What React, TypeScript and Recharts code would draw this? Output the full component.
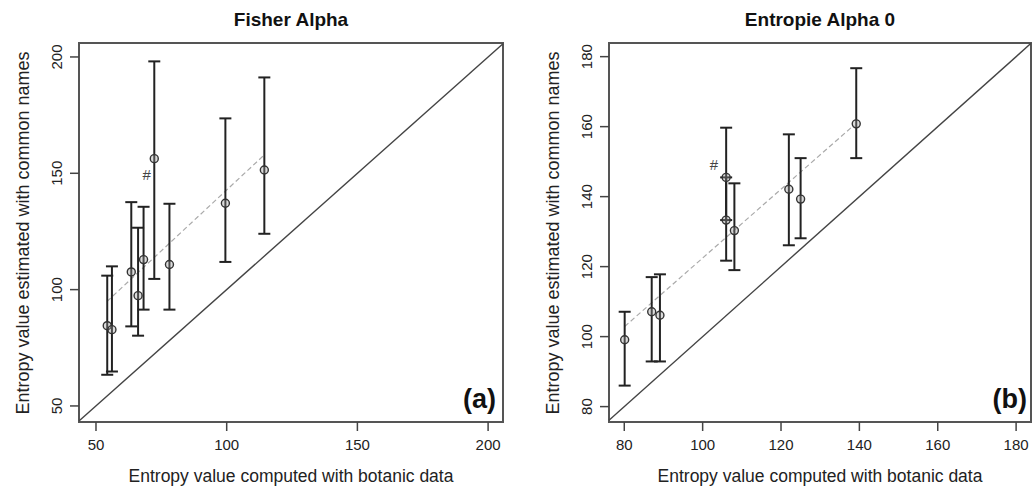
import { ErrorBar, ReferenceArea, ReferenceLine, Scatter, ScatterChart, XAxis, YAxis } from "recharts";

const FONT = "'Liberation Sans', Arial, Helvetica, sans-serif";

// (a) Fisher alpha: botanic estimate vs. common-name estimate with CI
const fisherBotanic = [54.3, 56.1, 63.5, 66.1, 68.2, 72.3, 78.1, 99.5, 114.4];
const fisherCommon = [84.5, 82.8, 107.6, 97.4, 112.9, 156.3, 110.8, 137.1, 151.4];
const fisherLow = [63.4, 64.8, 84.2, 80.2, 91.4, 104.6, 91.4, 111.9, 124.0];
const fisherHigh = [106.0, 110.0, 137.6, 126.6, 135.6, 198.1, 136.9, 173.6, 191.2];
const fisherFitX = [54.2, 113.9];
const fisherFitY = [94.9, 157.4];
const fisherMarkX = [69.4];
const fisherMarkY = [149.3];
const fisherTicks = [50, 100, 150, 200];

// (b) Entropy of order 0
const entropyBotanic = [80.1, 87.0, 89.1, 106.0, 106.0, 108.1, 122.0, 125.0, 139.2];
const entropyCommon = [99.1, 107.1, 106.1, 145.5, 133.3, 130.3, 142.1, 139.3, 160.8];
const entropyLow = [86.0, 92.9, 92.9, 133.3, 121.7, 119.0, 126.1, 128.1, 151.0];
const entropyHigh = [107.1, 117.0, 117.8, 159.7, 145.5, 143.8, 157.8, 151.0, 176.7];
const entropyFitX = [80.1, 138.5];
const entropyFitY = [102.9, 160.3];
const entropyMarkX = [102.9];
const entropyMarkY = [149.3];
const entropyTicks = [80, 100, 120, 140, 160, 180];

type PanelDef = {
  left: number;
  axisWidth: number;
  right: number;
  xDomain: [number, number];
  yDomain: [number, number];
  ticks: number[];
  x: number[];
  y: number[];
  low: number[];
  high: number[];
  fitX: number[];
  fitY: number[];
  markX: number[];
  markY: number[];
};

const panels: PanelDef[] = [
  {
    left: 0, axisWidth: 79, right: 13,
    xDomain: [43.5, 205.7], yDomain: [43.1, 206.0], ticks: fisherTicks,
    x: fisherBotanic, y: fisherCommon, low: fisherLow, high: fisherHigh,
    fitX: fisherFitX, fitY: fisherFitY, markX: fisherMarkX, markY: fisherMarkY,
  },
  {
    left: 516, axisWidth: 93, right: 1,
    xDomain: [76.1, 183.8], yDomain: [75.6, 183.9], ticks: entropyTicks,
    x: entropyBotanic, y: entropyCommon, low: entropyLow, high: entropyHigh,
    fitX: entropyFitX, fitY: entropyFitY, markX: entropyMarkX, markY: entropyMarkY,
  },
];

const RotatedTick = (props: any) => {
  const { x, y, payload } = props;
  return (
    <text x={x} y={y} transform={`rotate(-90 ${x} ${y})`} textAnchor="middle"
      fontSize={15} fontFamily={FONT} fill="#222">
      {payload.value}
    </text>
  );
};

const OpenCircle = (props: any) => (
  <circle cx={props.cx} cy={props.cy} r={4} fill="#999" fillOpacity={0.35} stroke="#333" strokeWidth={1.4} />
);

const HashMark = (props: any) => (
  <text x={props.cx} y={props.cy} textAnchor="middle" dominantBaseline="central"
    fontSize={15} fontFamily={FONT} fill="#444">#</text>
);

function Panel({ p }: { p: PanelDef }) {
  const points = p.x.map((x, i) => ({
    x,
    y: p.y[i],
    err: [p.y[i] - p.low[i], p.high[i] - p.y[i]],
  }));
  const marks = p.markX.map((x, i) => ({ x, y: p.markY[i] }));
  const lo = Math.max(p.xDomain[0], p.yDomain[0]);
  const hi = Math.min(p.xDomain[1], p.yDomain[1]);

  return (
    <div style={{ position: "absolute", left: p.left, top: 0 }}>
      <ScatterChart width={516} height={489} margin={{ top: 43, right: p.right, bottom: 0, left: 0 }}>
        <XAxis type="number" dataKey="x" domain={p.xDomain} allowDataOverflow ticks={p.ticks}
          axisLine={false} tickSize={9} tickMargin={8} height={67}
          tickLine={{ stroke: "#444", strokeWidth: 1.5 }}
          tick={{ fontSize: 15, fontFamily: FONT, fill: "#222" }} />
        <YAxis type="number" dataKey="y" domain={p.yDomain} allowDataOverflow ticks={p.ticks}
          axisLine={false} tickSize={9} tickMargin={8} width={p.axisWidth}
          tickLine={{ stroke: "#444", strokeWidth: 1.5 }} tick={<RotatedTick />} />
        <ReferenceArea x1={p.xDomain[0]} x2={p.xDomain[1]} y1={p.yDomain[0]} y2={p.yDomain[1]}
          fill="none" fillOpacity={0} stroke="#555" strokeWidth={2} ifOverflow="visible" />
        <ReferenceLine segment={[{ x: lo, y: lo }, { x: hi, y: hi }]} stroke="#444" strokeWidth={1.4} ifOverflow="visible" />
        <ReferenceLine segment={[{ x: p.fitX[0], y: p.fitY[0] }, { x: p.fitX[1], y: p.fitY[1] }]}
          stroke="#aaa" strokeWidth={1.2} strokeDasharray="5 3" ifOverflow="visible" />
        <Scatter data={points} isAnimationActive={false} shape={<OpenCircle />}>
          <ErrorBar dataKey="err" direction="y" width={6} stroke="#222" strokeWidth={2} isAnimationActive={false} />
        </Scatter>
        <Scatter data={marks} isAnimationActive={false} shape={<HashMark />} />
      </ScatterChart>
    </div>
  );
}

export default function App() {
  const yLabel = "Entropy value estimated with common names";
  const xLabel = "Entropy value computed with botanic data";
  return (
    <div style={{ position: "absolute", left: 0, top: 0, width: 1032, height: 489, background: "#fff", overflow: "hidden" }}>
      {panels.map((p, i) => <Panel key={i} p={p} />)}
      <svg width={1032} height={489} style={{ position: "absolute", left: 0, top: 0, pointerEvents: "none" }}
        fontFamily={FONT}>
        <text x={291} y={26} textAnchor="middle" fontSize={19} fontWeight="bold" fill="#111">Fisher Alpha</text>
        <text x={820} y={26} textAnchor="middle" fontSize={19} fontWeight="bold" fill="#111">Entropie Alpha 0</text>
        <text x={291} y={482} textAnchor="middle" fontSize={17.5} fill="#222">{xLabel}</text>
        <text x={820} y={482} textAnchor="middle" fontSize={17.5} fill="#222">{xLabel}</text>
        <text x={28.5} y={233} transform="rotate(-90 28.5 233)" textAnchor="middle" fontSize={18} fill="#222">{yLabel}</text>
        <text x={558.5} y={233} transform="rotate(-90 558.5 233)" textAnchor="middle" fontSize={18} fill="#222">{yLabel}</text>
        <text x={496} y={408} textAnchor="end" fontSize={27} fontWeight="bold" fill="#111">(a)</text>
        <text x={1027} y={408} textAnchor="end" fontSize={27} fontWeight="bold" fill="#111">(b)</text>
      </svg>
    </div>
  );
}
